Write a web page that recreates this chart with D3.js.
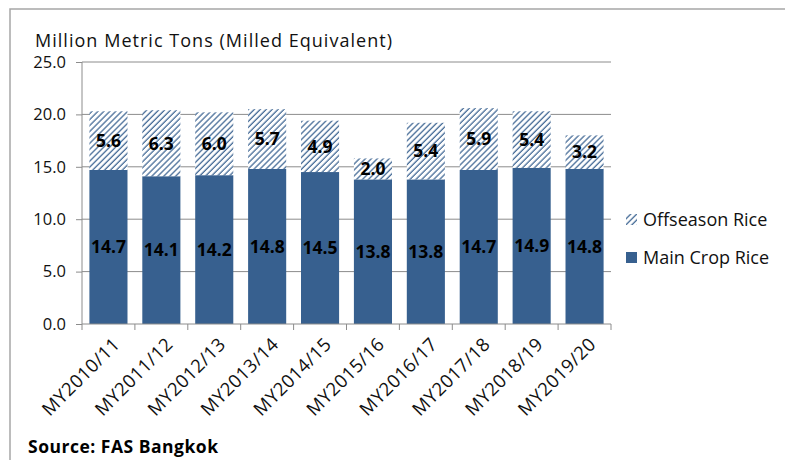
<!DOCTYPE html>
<html><head><meta charset="utf-8">
<script src="https://cdn.jsdelivr.net/npm/d3@7"></script>
<style>body{margin:0;background:#fff}svg{display:block}text{font-family:"Open Sans",sans-serif}</style>
</head><body><svg id="c" width="785" height="460"></svg>
<script>
const categories = ["MY2010/11","MY2011/12","MY2012/13","MY2013/14","MY2014/15","MY2015/16","MY2016/17","MY2017/18","MY2018/19","MY2019/20"];
const mainCrop = [14.7,14.1,14.2,14.8,14.5,13.8,13.8,14.7,14.9,14.8];
const offseason = [5.6,6.3,6.0,5.7,4.9,2.0,5.4,5.9,5.4,3.2];
const yTicks = [0,5,10,15,20,25];
const seriesNames = ["Offseason Rice","Main Crop Rice"];

const blue = "#37608f";
const svg = d3.select("#c");
const defs = svg.append("defs");
const pat = defs.append("pattern").attr("id","hatch").attr("patternUnits","userSpaceOnUse")
  .attr("width",4.2).attr("height",4.2).attr("patternTransform","rotate(45)");
pat.append("rect").attr("width",4.2).attr("height",4.2).attr("fill","#fff");
pat.append("line").attr("x1",1).attr("y1",0).attr("x2",1).attr("y2",4.2).attr("stroke",blue).attr("stroke-width",1.2);

// frame
svg.append("path").attr("d","M10,460 V9 H785").attr("fill","none").attr("stroke","#a6a6a6").attr("stroke-width",1.5);

const x = d3.scaleBand().domain(categories).range([82,611]).paddingInner(0.28).paddingOuter(0.14);
const y = d3.scaleLinear().domain([0,25]).range([324,62]);

// gridlines
svg.append("g").selectAll("line").data(yTicks.slice(1)).join("line")
  .attr("x1",82).attr("x2",611).attr("y1",d=>y(d)).attr("y2",d=>y(d))
  .attr("stroke","#8c8c8c").attr("stroke-width",1);

// y axis
const ya = svg.append("g").attr("transform","translate(82,0)")
  .call(d3.axisLeft(y).tickValues(yTicks).tickFormat(d3.format(".1f")).tickSize(6).tickPadding(10));
ya.select(".domain").attr("stroke","#8c8c8c").attr("d","M0,"+y(25)+"V"+y(0));
ya.selectAll(".tick line").attr("stroke","#8c8c8c");
ya.selectAll("text").attr("font-size",16.5).attr("fill","#111").attr("font-family","'Open Sans',sans-serif");

// bars
const g = svg.append("g");
g.selectAll(".m").data(categories).join("rect")
  .attr("x",d=>x(d)).attr("width",x.bandwidth())
  .attr("y",(d,i)=>y(mainCrop[i])).attr("height",(d,i)=>y(0)-y(mainCrop[i])).attr("fill",blue);
g.selectAll(".o").data(categories).join("rect")
  .attr("x",d=>x(d)).attr("width",x.bandwidth())
  .attr("y",(d,i)=>y(mainCrop[i]+offseason[i])).attr("height",(d,i)=>y(mainCrop[i])-y(mainCrop[i]+offseason[i])).attr("fill","url(#hatch)");

// x axis
const xa = svg.append("g").attr("transform","translate(0,324)");
xa.append("line").attr("x1",82).attr("x2",611).attr("stroke","#8c8c8c");
const step = (611-82)/categories.length;
xa.selectAll(".tk").data(d3.range(categories.length+1)).join("line")
  .attr("x1",d=>82+d*step).attr("x2",d=>82+d*step).attr("y1",0).attr("y2",6).attr("stroke","#8c8c8c");
xa.selectAll("text").data(categories).join("text")
  .attr("transform",d=>`translate(${x(d)+x.bandwidth()/2+8},17) rotate(-45)`)
  .attr("text-anchor","end").attr("dy","0.35em").attr("font-size",18.5).attr("letter-spacing",0.4).attr("fill","#111").text(d=>d);

// labels
const lab = svg.append("g").attr("font-weight","bold").attr("font-size",17.5).attr("text-anchor","middle").attr("fill","#000");
lab.selectAll(".lm").data(categories).join("text")
  .attr("x",d=>x(d)+x.bandwidth()/2).attr("y",(d,i)=>y(mainCrop[i]/2)).attr("dy","0.36em").text((d,i)=>mainCrop[i].toFixed(1));
lab.selectAll(".lo").data(categories).join("text")
  .attr("x",d=>x(d)+x.bandwidth()/2).attr("y",(d,i)=>y(mainCrop[i]+offseason[i]/2)).attr("dy","0.36em").text((d,i)=>offseason[i].toFixed(1));

// title
svg.append("text").attr("x",35).attr("y",47).attr("font-size",18).attr("fill","#111")
  .attr("textLength",357).attr("lengthAdjust","spacing").text("Million Metric Tons (Milled Equivalent)");

// legend
const lg = svg.append("g");
lg.append("rect").attr("x",626).attr("y",214).attr("width",11).attr("height",11).attr("fill","url(#hatch)");
lg.append("text").attr("x",643).attr("y",220).attr("dy","0.35em").attr("font-size",18).attr("fill","#111").text(seriesNames[0]);
lg.append("rect").attr("x",626).attr("y",252).attr("width",11).attr("height",11).attr("fill",blue);
lg.append("text").attr("x",643).attr("y",258).attr("dy","0.35em").attr("font-size",18).attr("fill","#111").text(seriesNames[1]);

// source
svg.append("text").attr("x",28).attr("y",453).attr("font-size",17.5).attr("font-weight","bold").attr("fill","#000")
  .attr("textLength",190).attr("lengthAdjust","spacing").text("Source: FAS Bangkok");
</script></body></html>
